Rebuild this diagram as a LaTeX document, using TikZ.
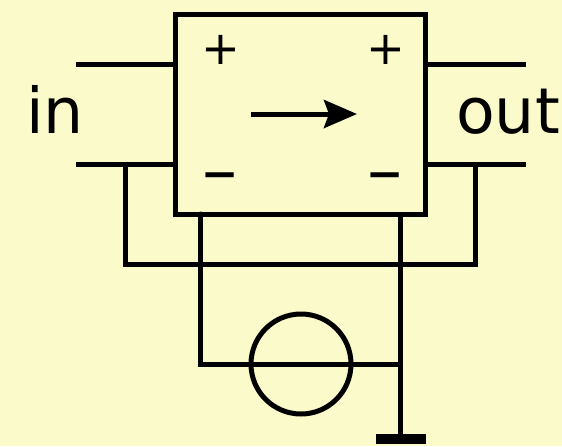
\documentclass[tikz,border=0pt]{standalone}
\usepackage{fontspec}
\usetikzlibrary{arrows.meta}
\setmainfont{DejaVu Sans}
\definecolor{paper}{HTML}{FAFACB}
\tikzset{
    wire/.style={line width=.05cm},
    port/.style={inner sep=0, anchor=base, font=\fontsize{18}{20}\selectfont},
    sign/.style={inner sep=0, font=\fontsize{13.2}{15}\selectfont},
    dash sign/.style={inner sep=0, font=\fontsize{20}{22}\selectfont},
}
\begin{document}
\begin{tikzpicture}
    \fill[paper] (0,0) rectangle (5.62,4.46);
    \useasboundingbox (0,0) rectangle (5.62,4.46);
    % two-port
    \node[draw, wire, minimum width=2.5cm, minimum height=2cm, inner sep=0, outer sep=0] (amp) at (3.01,3.32) {};
    \node[sign] (pleft) at (2.205,3.96) {+};
    \node[sign] (pright) at (3.855,3.96) {+};
    \node[dash sign] (mleft) at (2.205,2.62) {–};
    \node[dash sign] (mright) at (3.855,2.62) {–};
    \coordinate (from) at (2.51,3.32);
    \coordinate (to) at (3.57,3.32);
    \draw[wire, -{Stealth[length=.33cm, width=.28cm, inset=.05cm]}] (from) -- (to);
    % ports
    \node[port] (in) at (.55,3.13) {in};
    \node[port] (out) at (5.08,3.13) {out};
    \coordinate (inp) at (.76,3.82);
    \coordinate (inm) at (.76,2.82);
    \coordinate (outp) at (5.26,3.82);
    \coordinate (outm) at (5.26,2.82);
    \draw[wire] (inp) -- (inp -| amp.west);
    \draw[wire] (inm) -- (inm -| amp.west);
    \draw[wire] (outp) -- (outp -| amp.east);
    \draw[wire] (outm) -- (outm -| amp.east);
    % return loop
    \coordinate (loopl) at (1.26,2.82);
    \coordinate (loopr) at (4.76,2.82);
    \coordinate (loopbl) at (1.26,1.82);
    \coordinate (loopbr) at (4.76,1.82);
    \draw[wire] (loopl) -- (loopbl) -- (loopbr) -- (loopr);
    % source and ground
    \node[draw, circle, wire, minimum size=1cm, inner sep=0, outer sep=0] (src) at (3.01,.82) {};
    \node[fill=black, minimum width=.5cm, minimum height=.1cm, inner sep=0, outer sep=0] (gnd) at (4.01,.07) {};
    \coordinate (sl) at (2.01,2.32);
    \coordinate (sr) at (4.01,2.32);
    \coordinate (sj) at (4.01,.82);
    \draw[wire, line cap=round] (sl) |- (src.west);
    \draw[wire] (src.west) -- (src.east) -- (sj);
    \draw[wire] (sr) -- (gnd.north);
\end{tikzpicture}
\end{document}
